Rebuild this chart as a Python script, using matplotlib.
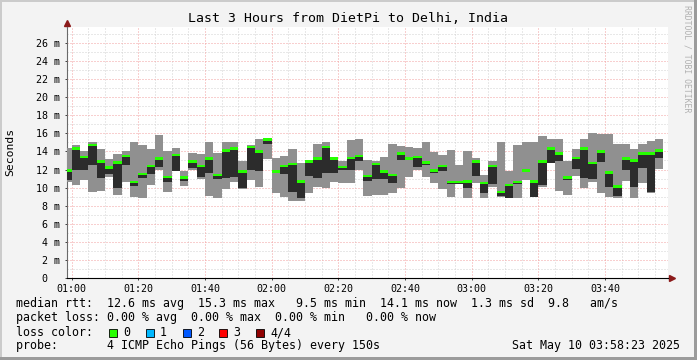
#SmokePing style latency graph, DietPi -> Delhi
import matplotlib
matplotlib.use('Agg')
import matplotlib.pyplot as plt
from matplotlib.patches import Rectangle
import numpy as np

plt.rcParams['font.family'] = ['DejaVu Sans Mono']

#Probe slots (150 s each), first slot starts 00:57:30, values in ms
slot_start_min = 57.5
step_min = 2.5

smoke_top = [14.4,14.7,14.0,15.0,14.3,13.2,13.7,14.0,15.0,14.7,14.3,15.8,
             14.0,14.4,11.8,13.8,13.7,15.0,13.8,15.0,15.0,12.9,14.7,15.4,
             15.5,13.3,13.5,14.3,12.7,12.9,14.8,15.0,13.2,12.9,15.3,15.4,
             13.0,12.9,13.4,14.8,14.6,14.5,14.4,15.1,13.9,13.6,14.2,12.5,
             14.0,13.3,11.4,12.9,15.0,11.8,14.7,15.0,15.0,15.7,15.4,15.4,
             12.9,14.3,15.4,16.0,15.9,15.9,14.8,14.8,14.3,14.8,15.2,15.4]
smoke_bottom = [10.6,10.3,10.8,9.5,9.6,11.2,9.2,10.6,9.0,8.9,10.3,11.9,
                9.5,11.8,10.2,11.9,11.0,9.1,8.9,9.9,10.6,9.9,10.8,10.1,
                13.2,9.4,9.0,8.5,8.5,9.4,10.1,10.0,10.6,10.5,10.5,11.9,
                9.1,9.2,9.2,9.4,10.0,11.2,11.9,11.2,10.5,9.8,9.0,10.5,
                8.8,10.5,8.9,10.1,9.0,8.8,8.8,10.8,9.0,10.1,12.7,9.6,
                9.2,11.3,10.0,10.6,9.4,9.0,8.8,10.7,8.9,10.5,9.4,12.1]
core_top = [11.9,14.3,13.4,14.7,12.9,12.2,12.8,13.5,10.6,11.5,12.4,13.2,
            11.2,13.6,11.1,12.9,12.4,13.2,11.4,14.1,14.3,11.8,14.5,14.0,
            15.3,11.8,12.4,12.6,10.7,12.9,13.2,14.5,13.2,12.3,13.3,13.5,
            11.3,12.6,11.8,11.4,13.8,13.2,13.4,12.8,11.9,12.4,10.6,10.6,
            10.7,12.9,10.5,12.4,9.5,10.3,10.6,11.9,10.7,12.9,14.3,13.8,
            11.1,13.3,14.3,12.7,14.0,11.7,10.1,13.2,13.0,13.8,13.8,14.1]
core_bottom = [10.8,12.0,11.9,12.5,11.1,11.5,10.0,12.5,10.2,11.1,11.5,12.3,
               10.6,11.8,10.7,12.2,11.2,11.6,10.9,11.1,11.2,10.0,11.9,11.8,
               14.8,11.7,11.5,9.5,8.9,11.3,11.1,11.6,11.6,11.9,12.0,12.9,
               10.7,11.0,10.9,10.5,13.0,13.0,12.3,12.5,11.6,11.8,10.4,10.4,
               10.0,11.3,9.4,10.4,9.1,8.8,10.4,11.7,9.0,10.3,12.7,12.9,
               10.8,12.1,11.1,11.0,12.8,10.1,9.1,11.9,10.1,12.2,9.5,13.3]
median = [11.9,14.3,13.4,14.7,12.9,12.2,12.8,13.5,10.6,11.5,12.4,13.2,
          11.2,13.6,11.1,12.9,12.4,13.2,11.4,14.1,14.3,11.8,14.5,14.0,
          15.3,11.8,12.4,12.6,10.7,12.9,13.2,14.5,13.2,12.3,13.3,13.5,
          11.3,12.6,11.8,11.4,13.8,13.2,13.4,12.8,11.9,12.4,10.6,10.6,
          10.7,12.9,10.5,12.4,9.5,10.3,10.6,11.9,10.7,12.9,14.3,13.8,
          11.1,13.3,14.3,12.7,14.0,11.7,10.1,13.2,13.0,13.8,13.8,14.1]

x_ticks = [60, 80, 100, 120, 140, 160, 180, 200, 220]
x_labels = ['01:00','01:20','01:40','02:00','02:20','02:40','03:00','03:20','03:40']
y_ticks = list(range(0, 27, 2))
y_labels = ['0  '] + [f'{v} m' for v in y_ticks[1:]]

loss_labels = ['0', '1', '2', '3', '4/4']
loss_colors = ['#26ff00', '#00b8ff', '#0059ff', '#ff0000', '#8f0000']

legend_lines = [
    'median rtt:  12.6 ms avg  15.3 ms max   9.5 ms min  14.1 ms now  1.3 ms sd  9.8   am/s',
    'packet loss: 0.00 % avg  0.00 % max  0.00 % min   0.00 % now',
    'loss color:',
    'probe:       4 ICMP Echo Pings (56 Bytes) every 150s',
]
stamp = 'Sat May 10 03:58:23 2025'

W, H = 697, 360
fig = plt.figure(figsize=(W / 100, H / 100), dpi=100)
fig.patch.set_facecolor('#f3f3f3')

def fx(px):
    return px / W

def fy(py):
    return 1 - py / H

#3D frame like rrdtool
fig.patches.append(Rectangle((0, fy(2)), 1, 2 / H, transform=fig.transFigure, color='#cbcbcb', lw=0))
fig.patches.append(Rectangle((0, 0), 2 / W, 1, transform=fig.transFigure, color='#cbcbcb', lw=0))
fig.patches.append(Rectangle((fx(694), 0), 3 / W, 1, transform=fig.transFigure, color='#9b9b9b', lw=0))
fig.patches.append(Rectangle((0, 0), 1, 3 / H, transform=fig.transFigure, color='#9b9b9b', lw=0))

ax = fig.add_axes([fx(67), fy(278), (668 - 67) / W, (278 - 27) / H])
ax.set_facecolor('white')

n = len(median)
left = slot_start_min + step_min * np.arange(n)
smoke_top = np.array(smoke_top); smoke_bottom = np.array(smoke_bottom)
core_top = np.array(core_top); core_bottom = np.array(core_bottom)
median = np.array(median)

ax.bar(left, smoke_top - smoke_bottom, bottom=smoke_bottom, width=step_min, align='edge',
       color='#909090', lw=0, zorder=3)
ax.bar(left, core_top - core_bottom, bottom=core_bottom, width=step_min, align='edge',
       color='#2c2c2c', lw=0, zorder=4)
ax.bar(left, 0.28, bottom=median - 0.14, width=step_min, align='edge',
       color=loss_colors[0], lw=0, zorder=5)

ax.set_xlim(58.6, 238.9)
ax.set_ylim(0, 27.77)

#grid: minor gray, major red, both dotted
for v in np.arange(60, 239, 5):
    if v % 20:
        ax.axvline(v, color='#d2d2d2', lw=0.72, ls=(0, (1, 2)), zorder=1)
for v in range(1, 28, 2):
    ax.axhline(v, color='#d2d2d2', lw=0.72, ls=(0, (1, 2)), zorder=1)
for v in x_ticks:
    ax.axvline(v, color='#f2a0a0', lw=0.72, ls=(0, (1, 2)), zorder=2)
for v in y_ticks[1:]:
    ax.axhline(v, color='#f2a0a0', lw=0.72, ls=(0, (1, 2)), zorder=2)

ax.set_xticks(x_ticks)
ax.set_xticklabels(x_labels)
ax.set_yticks(y_ticks)
ax.set_yticklabels(y_labels)
ax.tick_params(axis='both', labelsize=7.2, length=1.5, width=0.7, color='#404040', pad=2.5)
ax.tick_params(axis='y', pad=3.5)

for s in ['top', 'right']:
    ax.spines[s].set_visible(False)
ax.spines['left'].set_color('#6a6a6a')
ax.spines['left'].set_linewidth(0.8)
ax.spines['bottom'].set_color('black')
ax.spines['bottom'].set_linewidth(0.8)

#axis arrows
ax.plot([0, 0], [1, 1.02], color='#6a6a6a', lw=0.8, transform=ax.transAxes, clip_on=False)
ax.plot([0], [1.016], marker='^', ms=4, color='#8b1a1a', transform=ax.transAxes, clip_on=False)
ax.plot([1, 1.006], [0, 0], color='black', lw=0.8, transform=ax.transAxes, clip_on=False)
ax.plot([1.006], [0], marker='>', ms=4, color='#8b1a1a', transform=ax.transAxes, clip_on=False)

fig.text(fx(10), fy(152), 'Seconds', rotation=90, fontsize=8.2, ha='center', va='center')

fig.text(fx(348), fy(19), 'Last 3 Hours from DietPi to Delhi, India', fontsize=9.5,
         ha='center', va='center')
fig.text(fx(687), fy(59), 'RRDTOOL / TOBI OETIKER', fontsize=5.9, rotation=270,
         color='#b0b0b0', ha='center', va='center')

legend_y = [304, 318, 332.5, 346]
for txt, yy in zip(legend_lines, legend_y):
    fig.text(fx(16), fy(yy), txt, fontsize=8.4, ha='left', va='center')
fig.text(fx(680), fy(346), stamp, fontsize=8.4, ha='right', va='center')

box_x = [109, 146, 183, 219, 256]
for bx, lab, col in zip(box_x, loss_labels, loss_colors):
    fig.patches.append(Rectangle((fx(bx), fy(336.5)), 8 / W, 8 / H, transform=fig.transFigure,
                                 facecolor=col, edgecolor='black', lw=0.6))
    fig.text(fx(bx + 14), fy(332.5), lab, fontsize=8.4, ha='left', va='center')

fig.savefig('out.png', dpi=100, facecolor=fig.get_facecolor())
